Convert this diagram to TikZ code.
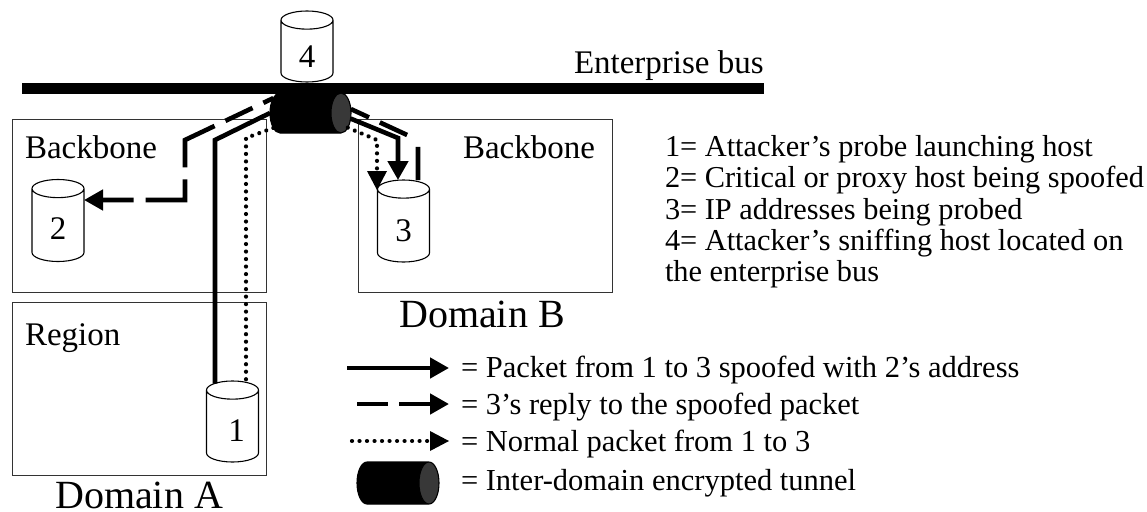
\documentclass[tikz,border=0pt]{standalone}
\usepackage{fontspec}
\setmainfont{Liberation Serif}
\usetikzlibrary{shapes.geometric, arrows.meta, calc}
\tikzstyle{txt} = [inner sep=0pt,outer sep=0pt,anchor=base west,font=\fontsize{33}{38}\selectfont]
\tikzstyle{big} = [inner sep=0pt,outer sep=0pt,anchor=base,font=\fontsize{40}{46}\selectfont]
\tikzstyle{key} = [inner sep=0pt,outer sep=0pt,anchor=base west,font=\fontsize{30.5}{32}\selectfont]
\tikzstyle{note} = [inner sep=0pt,outer sep=0pt,anchor=base west,font=\fontsize{30.35}{32}\selectfont]
\tikzstyle{num} = [inner sep=0pt,outer sep=0pt,font=\fontsize{33}{38}\selectfont]
\tikzstyle{zone} = [draw=black!80,line width=1.3pt,rectangle,anchor=north west,inner sep=0pt,minimum width=254,minimum height=173]
\tikzstyle{host} = [draw=black,line width=1.1pt,fill=white,cylinder,shape border rotate=90,aspect=1.1,anchor=shape center,inner sep=0pt,outer sep=0pt,minimum width=52,minimum height=82,font=\fontsize{33}{38}\selectfont]
\tikzstyle{tube} = [draw=black,line width=1.1pt,cylinder,aspect=0.9,anchor=shape center,inner sep=0pt,outer sep=0pt,minimum width=40,minimum height=81,font=\fontsize{33}{38}\selectfont,cylinder uses custom fill,cylinder body fill=black,cylinder end fill=black!78]
\tikzstyle{head} = [-{Triangle[length=19pt,width=20pt]}]
\tikzstyle{wire} = [line width=4.6pt]
\tikzstyle{dotline} = [line width=4.2pt,line cap=round,dash pattern=on 0.01pt off 7.5pt]

\begin{document}
\begin{tikzpicture}[x=1pt,y=-1pt]
        \useasboundingbox (0,0) rectangle (1147,511);

        \node (BackA) [zone] at (12,119) {};
        \node (RegionA) [zone] at (12,302) {};
        \node (BackB) [zone] at (358,119) {};

        \node (Bus) [rectangle,fill=black,inner sep=0pt,minimum width=742,minimum height=11,anchor=north west] at (22,83) {};

        \node (Host4) [host,minimum height=71] at (307,46.5) {\phantom{0}};
        \node (Host3) [host] at (403.5,221) {\phantom{0}};
        \node (Host2) [host] at (58,220.5) {\phantom{0}};
        \node (Host1) [host,minimum height=81] at (232.5,421.5) {\phantom{0}};
        \node (Tunnel) [tube] at (310.5,113) {\phantom{0}};

        \node (Num4) [num] at ($(Host4.shape center)+(0,10)$) {4};
        \node (Num3) [num] at ($(Host3.shape center)+(0,10)$) {3};
        \node (Num2) [num] at ($(Host2.shape center)+(0,8)$) {2};
        \node (Num1) [num] at ($(Host1.shape center)+(4,9)$) {1};

        \coordinate (SolidA) at (215,140);
        \coordinate (DashA) at (185,140);
        \coordinate (DashA2) at (185,200);
        \coordinate (DotA) at (246,138);
        \coordinate (SolidB) at (398,138);
        \coordinate (DashB) at (418,140);
        \coordinate (DotB) at (377,140);

        \draw [wire] (Tunnel.west) -- (SolidA) -- (SolidA |- Host1.113);
        \draw [dotline] (Tunnel.205) -- (DotA) -- (DotA |- Host1.72);
        \draw [wire,head,dash pattern=on 11pt off 12pt on 30pt off 12pt on 60pt off 12pt on 60pt off 12pt on 60pt] (Tunnel.155) -- (DashA) -- (DashA2) -- (DashA2 -| Host2.0);

        \draw [wire,head] (Tunnel.-7) -- (SolidB) -- (SolidB |- Host3.north);
        \draw [wire,dash pattern=on 20pt off 12pt on 30pt off 19pt on 40pt] (Tunnel.5) -- (DashB) -- (DashB |- Host3.north);
        \draw [dotline] (Tunnel.-19) -- (DotB) -- ($(DotB |- Host3.126)+(0,-17)$) coordinate (DotEnd);
        \draw [line width=0pt,head] (DotEnd) -- (DotB |- Host3.126);

        \node (BusLabel) [txt] at (574,73) {Enterprise bus};
        \node (LabelBackA) [txt] at (25,158) {Backbone};
        \node (LabelBackB) [txt] at (463,158) {Backbone};
        \node (LabelRegion) [txt] at (25,345) {Region};
        \node (DomainA) [big] at (139,508) {Domain A};
        \node (DomainB) [big] at (482,327) {Domain B};

        \node (Note1) [note] at (665,156) {1= Attacker’s probe launching host};
        \node (Note2) [note] at (665,187) {2= Critical or proxy host being spoofed};
        \node (Note3) [note] at (665,219) {3= IP addresses being probed};
        \node (Note4) [note] at (665,250) {4= Attacker’s sniffing host located on};
        \node (Note5) [note] at (665,281) {the enterprise bus};

        \node (KeySolid) [key] at (461,377) {= Packet from 1 to 3 spoofed with 2’s address};
        \node (KeyDash) [key] at (461,414) {= 3’s reply to the spoofed packet};
        \node (KeyDot) [key] at (461,451) {= Normal packet from 1 to 3};
        \node (KeyTube) [key] at (461,490) {= Inter-domain encrypted tunnel};

        \coordinate (StartSolid) at (347,368);
        \coordinate (StartDash) at (357,404);
        \coordinate (StartDot) at (352,441);
        \coordinate (MidDot) at (430,441);
        \draw [wire,head,shorten >=12pt] (StartSolid) -- (StartSolid -| KeySolid.west);
        \draw [wire,head,shorten >=12pt,dash pattern=on 31pt off 11pt] (StartDash) -- (StartDash -| KeyDash.west);
        \draw [dotline] (StartDot) -- (MidDot);
        \draw [line width=0pt,head,shorten >=12pt] (MidDot) -- (MidDot -| KeyDot.west);
        \node (LegendTube) [tube,minimum width=42,minimum height=82] at (398,483) {\phantom{0}};

\end{tikzpicture}
\end{document}
